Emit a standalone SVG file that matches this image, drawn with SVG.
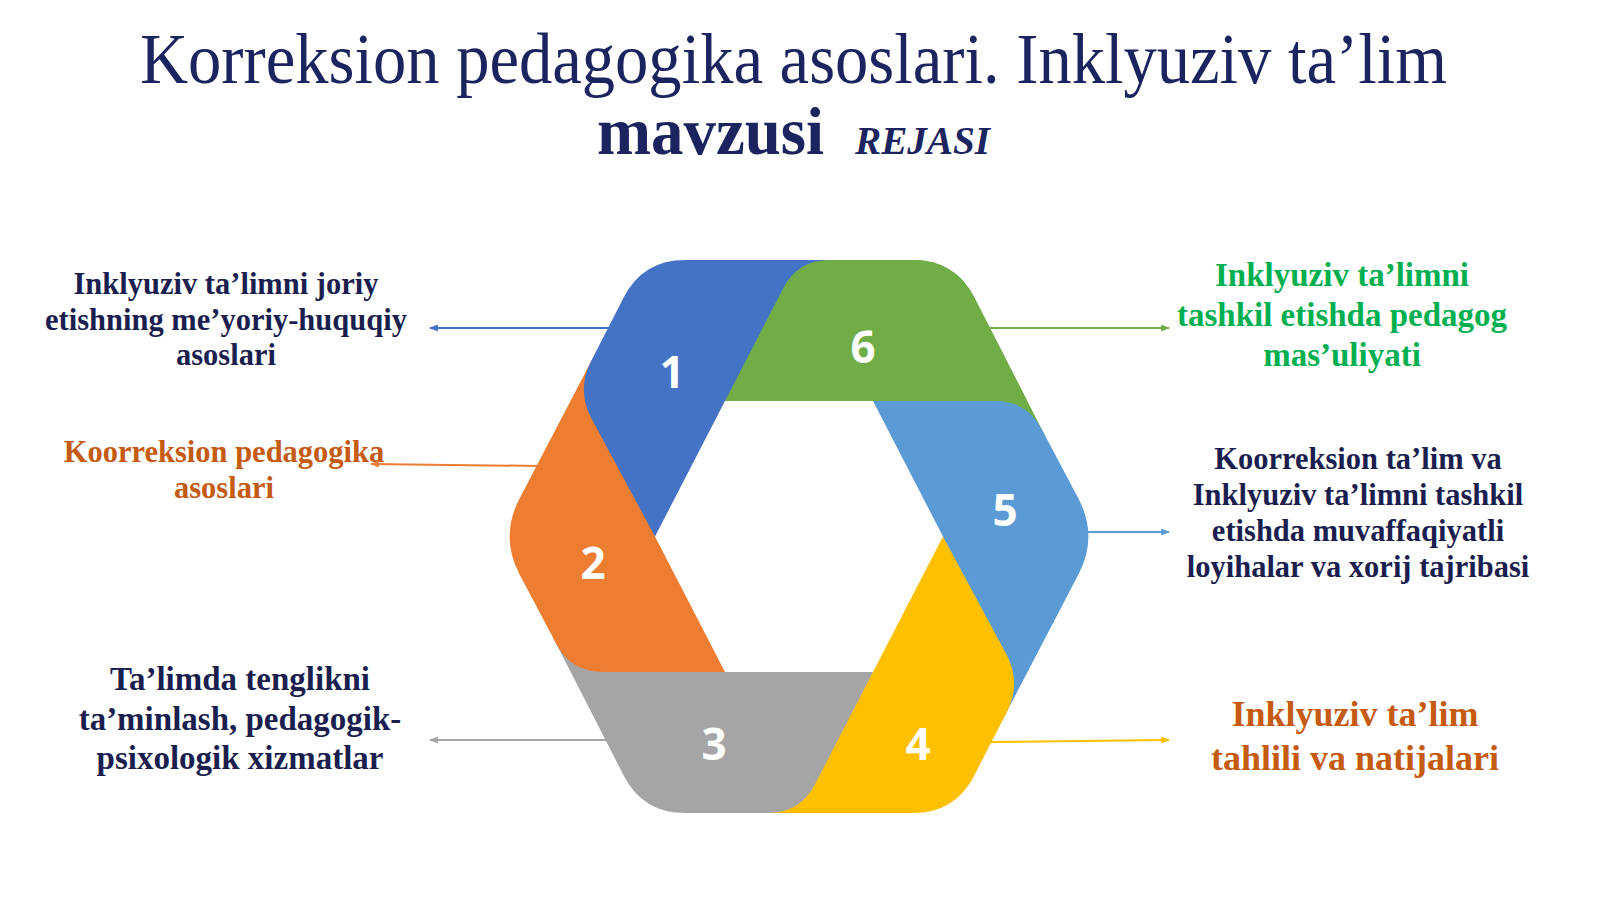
<svg xmlns="http://www.w3.org/2000/svg" width="1600" height="899" viewBox="0 0 1600 899">
<style>
.title{font-family:"Liberation Serif","Times New Roman",serif;fill:#1c2460}
.lbl{font-family:"Liberation Serif","Times New Roman",serif;font-weight:bold;text-anchor:middle}
.navy{fill:#1b1f50}
.orn{fill:#c55a11}
.grn{fill:#00b050}
.num{font-family:"Open Sans","DejaVu Sans",sans-serif;font-weight:700;font-size:44px;fill:#ffffff;text-anchor:middle}
.con{fill:none;stroke-width:2}
</style>
<defs>
<marker id="mBlue" viewBox="0 0 10 8" refX="9" refY="4" markerWidth="9" markerHeight="7" markerUnits="userSpaceOnUse" orient="auto"><path d="M0,0 L10,4 L0,8 Z" fill="#4472c4"/></marker>
<marker id="mOrange" viewBox="0 0 10 8" refX="9" refY="4" markerWidth="9" markerHeight="7" markerUnits="userSpaceOnUse" orient="auto"><path d="M0,0 L10,4 L0,8 Z" fill="#ed7d31"/></marker>
<marker id="mGray" viewBox="0 0 10 8" refX="9" refY="4" markerWidth="9" markerHeight="7" markerUnits="userSpaceOnUse" orient="auto"><path d="M0,0 L10,4 L0,8 Z" fill="#a5a5a5"/></marker>
<marker id="mGreen" viewBox="0 0 10 8" refX="9" refY="4" markerWidth="9" markerHeight="7" markerUnits="userSpaceOnUse" orient="auto"><path d="M0,0 L10,4 L0,8 Z" fill="#70ad47"/></marker>
<marker id="mLBlue" viewBox="0 0 10 8" refX="9" refY="4" markerWidth="9" markerHeight="7" markerUnits="userSpaceOnUse" orient="auto"><path d="M0,0 L10,4 L0,8 Z" fill="#5b9bd5"/></marker>
<marker id="mYellow" viewBox="0 0 10 8" refX="9" refY="4" markerWidth="9" markerHeight="7" markerUnits="userSpaceOnUse" orient="auto"><path d="M0,0 L10,4 L0,8 Z" fill="#ffc000"/></marker>
</defs>
<rect width="1600" height="899" fill="#ffffff"/>

<g id="title">
<text class="title" x="140" y="83" font-size="72" textLength="1307" lengthAdjust="spacingAndGlyphs">Korreksion pedagogika asoslari. Inklyuziv ta’lim</text>
<text class="title" x="597" y="154" font-size="68" font-weight="bold" textLength="227" lengthAdjust="spacingAndGlyphs">mavzusi</text>
<text class="title" x="855" y="154" font-size="40" font-weight="bold" font-style="italic" textLength="135" lengthAdjust="spacingAndGlyphs">REJASI</text>
</g>

<g id="connectors">
<path class="con" stroke="#4472c4" d="M612 328 L430 328" marker-end="url(#mBlue)"/>
<path class="con" stroke="#ed7d31" d="M540 466 L371 464" marker-end="url(#mOrange)"/>
<path class="con" stroke="#a5a5a5" d="M612 740 L430 740" marker-end="url(#mGray)"/>
<path class="con" stroke="#70ad47" d="M986 328 L1169 328" marker-end="url(#mGreen)"/>
<path class="con" stroke="#5b9bd5" d="M1085 532 L1169 532" marker-end="url(#mLBlue)"/>
<path class="con" stroke="#ffc000" d="M990 742 L1169 740" marker-end="url(#mYellow)"/>
</g>

<g id="node6-under">
<path fill="#70ad47" transform="translate(799 536.5)" d="M -74 -135.5 L 74 -135.5 L 246.5 -100 L 175.2 -239.2 Q 156 -276.5 114 -276.5 L 30.8 -276.5 Q -1.2 -276.5 -15.9 -248.1 Z"/>
</g>
<g id="node5">
<path fill="#5b9bd5" transform="translate(799 536.5)" d="M 74 -135.5 L 144 0 L 202.7 185 L 279.8 37.3 Q 299 0 279.8 -37.3 L 242.9 -107.1 Q 228.2 -135.5 196.2 -135.5 Z"/>
<text class="num" x="1005" y="526">5</text>
</g>
<g id="node4">
<path fill="#ffc000" transform="translate(799 536.5)" d="M 144 0 L 74 135.5 L -40 276.5 L 114 276.5 Q 156 276.5 175.2 239.2 L 207.8 175.6 Q 222.5 147.2 207.9 118.7 Z"/>
<text class="num" x="918" y="760">4</text>
</g>
<g id="node3">
<path fill="#a5a5a5" transform="translate(799 536.5)" d="M 74 135.5 L -74 135.5 L -246.5 100 L -175.2 239.2 Q -156 276.5 -114 276.5 L -30.8 276.5 Q 1.2 276.5 15.9 248.1 Z"/>
<text class="num" x="714" y="760">3</text>
</g>
<g id="node2">
<path fill="#ed7d31" transform="translate(799 536.5)" d="M -74 135.5 L -144 0 L -202.7 -185 L -279.8 -37.3 Q -299 0 -279.8 37.3 L -242.9 107.1 Q -228.2 135.5 -196.2 135.5 Z"/>
<text class="num" x="593" y="579">2</text>
</g>
<g id="node1">
<path fill="#4472c4" transform="translate(799 536.5)" d="M -144 0 L -74 -135.5 L 40 -276.5 L -114 -276.5 Q -156 -276.5 -175.2 -239.2 L -207.8 -175.6 Q -222.5 -147.2 -207.9 -118.7 Z"/>
<text class="num" x="672" y="388">1</text>
</g>
<g id="node6">
<path fill="#70ad47" transform="translate(799 536.5)" d="M -74 -135.5 L 228.2 -135.5 L 175.2 -239.2 Q 156 -276.5 114 -276.5 L 30.8 -276.5 Q -1.2 -276.5 -15.9 -248.1 Z"/>
<text class="num" x="863" y="363">6</text>
</g>

<g id="label1">
<text class="lbl navy" font-size="30.5"><tspan x="226" y="294">Inklyuziv ta’limni joriy</tspan><tspan x="226" y="330">etishning me’yoriy-huquqiy</tspan><tspan x="226" y="365">asoslari</tspan></text>
</g>
<g id="label2">
<text class="lbl orn" font-size="30.5"><tspan x="224" y="462">Koorreksion pedagogika</tspan><tspan x="224" y="498">asoslari</tspan></text>
</g>
<g id="label3">
<text class="lbl navy" font-size="33"><tspan x="240" y="690">Ta’limda tenglikni</tspan><tspan x="240" y="730">ta’minlash, pedagogik-</tspan><tspan x="240" y="769">psixologik xizmatlar</tspan></text>
</g>
<g id="label6">
<text class="lbl grn" font-size="33"><tspan x="1342" y="286">Inklyuziv ta’limni</tspan><tspan x="1342" y="326">tashkil etishda pedagog</tspan><tspan x="1342" y="366">mas’uliyati</tspan></text>
</g>
<g id="label5">
<text class="lbl navy" font-size="30.5"><tspan x="1358" y="469">Koorreksion ta’lim va</tspan><tspan x="1358" y="505">Inklyuziv ta’limni tashkil</tspan><tspan x="1358" y="541">etishda muvaffaqiyatli</tspan><tspan x="1358" y="577">loyihalar va xorij tajribasi</tspan></text>
</g>
<g id="label4">
<text class="lbl orn" font-size="36"><tspan x="1355" y="726">Inklyuziv ta’lim</tspan><tspan x="1355" y="770">tahlili va natijalari</tspan></text>
</g>
</svg>
